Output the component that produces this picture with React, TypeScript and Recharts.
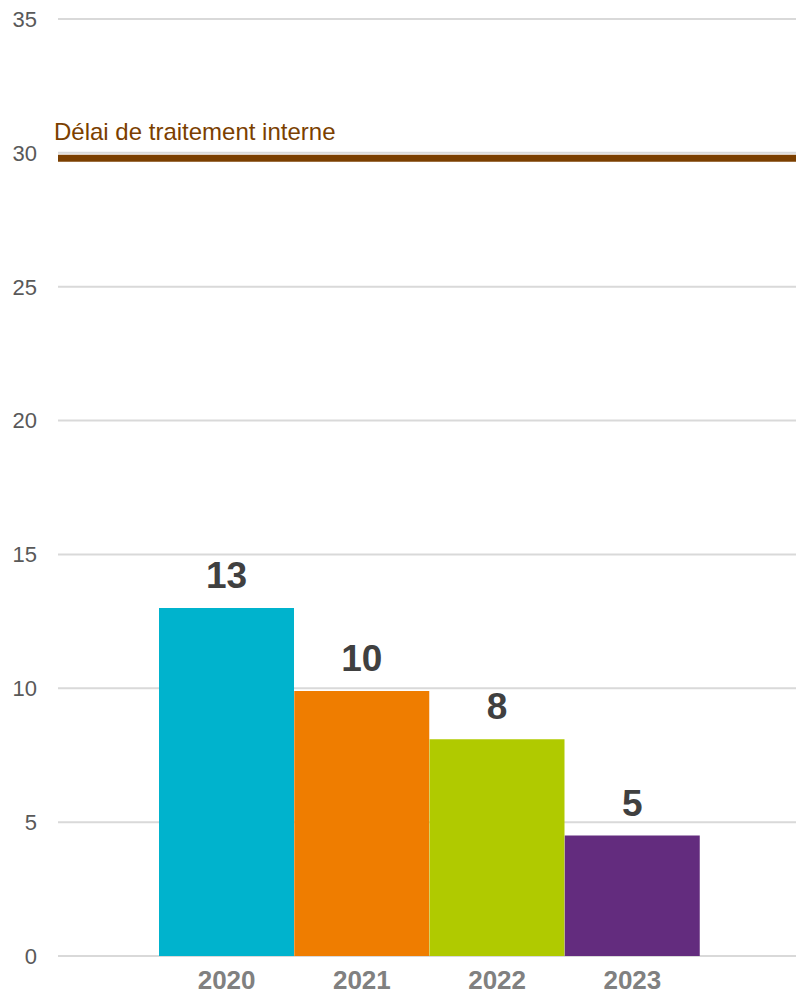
import { Bar, BarChart, CartesianGrid, Cell, LabelList, ReferenceLine, XAxis, YAxis } from "recharts";

const years = ["2020", "2021", "2022", "2023"];
const delays = [13, 9.9, 8.1, 4.5];
const barColors = ["#00B3CD", "#EF7D00", "#B0CA00", "#632C7E"];
const yTicks = [0, 5, 10, 15, 20, 25, 30, 35];
const internalDelay = 29.8;
const internalDelayLabel = "Délai de traitement interne";

const FONT = '"Liberation Sans", Arial, sans-serif';

const renderValueLabel = (props: any) => {
  const { x, y, width, value } = props;
  return (
    <text
      x={x + width / 2}
      y={y - 20}
      textAnchor="middle"
      fontFamily={FONT}
      fontSize={37}
      fontWeight="bold"
      fill="#404040"
    >
      {Math.round(value)}
    </text>
  );
};

const renderLineLabel = (props: any) => {
  const { viewBox } = props;
  return (
    <text
      x={viewBox.x - 4}
      y={viewBox.y - 18}
      fontFamily={FONT}
      fontSize={24}
      fill="#7B3F00"
    >
      {internalDelayLabel}
    </text>
  );
};

export default function App() {
  const data = years.map((year, i) => ({ year, value: delays[i] }));

  return (
    <div style={{ position: "absolute", left: 0, top: 0 }}>
      <BarChart
        width={796}
        height={994}
        data={data}
        margin={{ top: 19, right: 0, bottom: 0, left: 0 }}
        barCategoryGap={0}
      >
        <CartesianGrid vertical={false} stroke="#D9D9D9" strokeWidth={2} />
        <XAxis
          dataKey="year"
          height={38}
          axisLine={false}
          tickLine={false}
          tickSize={0}
          tickMargin={15}
          padding={{ left: 101, right: 96 }}
          tick={{ fontFamily: FONT, fontSize: 26, fontWeight: "bold", fill: "#808080" }}
        />
        <YAxis
          width={58}
          domain={[0, 35]}
          ticks={yTicks}
          axisLine={false}
          tickLine={false}
          tickSize={0}
          tickMargin={21}
          tick={{ fontFamily: FONT, fontSize: 22, fill: "#595959" }}
        />
        <Bar dataKey="value" isAnimationActive={false}>
          {data.map((d, i) => (
            <Cell key={d.year} fill={barColors[i]} />
          ))}
          <LabelList dataKey="value" content={renderValueLabel} />
        </Bar>
        <ReferenceLine
          y={internalDelay}
          stroke="#7B3F00"
          strokeWidth={7}
          label={renderLineLabel}
        />
      </BarChart>
    </div>
  );
}
